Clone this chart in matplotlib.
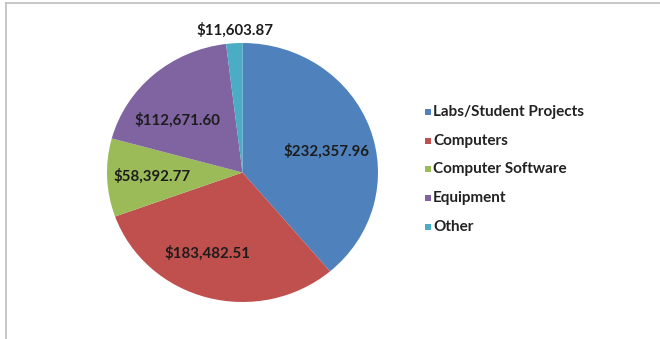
import matplotlib.pyplot as plt
from matplotlib.lines import Line2D
from matplotlib.patches import Rectangle

categories = ["Labs/Student Projects", "Computers", "Computer Software",
              "Equipment", "Other"]
amounts = [232357.96, 183482.51, 58392.77, 112671.60, 11603.87]
colors = ["#4F81BD", "#C0504D", "#9BBB59", "#8064A2", "#4BACC6"]

# where each dollar label sits, in pie data units
label_xy = [(0.616, 0.166), (-0.262, -0.622), (-0.668, -0.027),
            (-0.483, 0.405), (-0.055, 1.10)]

plt.rcParams['font.family'] = ['Lato', 'DejaVu Sans']

W, H = 660, 339
fig = plt.figure(figsize=(W / 100, H / 100), dpi=100)

# pie axes placed in pixels (slightly wider than tall)
left, right, top, bottom = 107, 378, 43, 302
ax = fig.add_axes([left / W, 1 - bottom / H, (right - left) / W, (bottom - top) / H])
wedges, _ = ax.pie(amounts, colors=colors, startangle=90, counterclock=False,
                   radius=1.0, wedgeprops=dict(linewidth=0))
ax.set_aspect('auto')
ax.set_xlim(-1, 1)
ax.set_ylim(-1, 1)

for (x, y), val in zip(label_xy, amounts):
    ax.text(x, y, "${:,.2f}".format(val), ha='center', va='center',
            fontsize=10.8, fontweight='bold', color='#1c1c1c', clip_on=False)

# legend: small squares with labels
for i, (name, c) in enumerate(zip(categories, colors)):
    ypix = 112 + i * 28.7
    fig.add_artist(Rectangle((425 / W, 1 - (ypix + 3) / H), 6 / W, 6 / H,
                             transform=fig.transFigure, color=c, lw=0))
    fig.text(433 / W, 1 - ypix / H, name, ha='left', va='center',
             fontsize=11, fontweight='bold', color='#222222')

# chart frame (top and left edges)
frame = '#c4c4c4'
fig.add_artist(Line2D([6 / W, 1], [1 - 3 / H, 1 - 3 / H], color=frame, lw=1.3))
fig.add_artist(Line2D([6 / W, 6 / W], [0, 1 - 3 / H], color=frame, lw=1.3))

fig.savefig("out.png", dpi=100)
